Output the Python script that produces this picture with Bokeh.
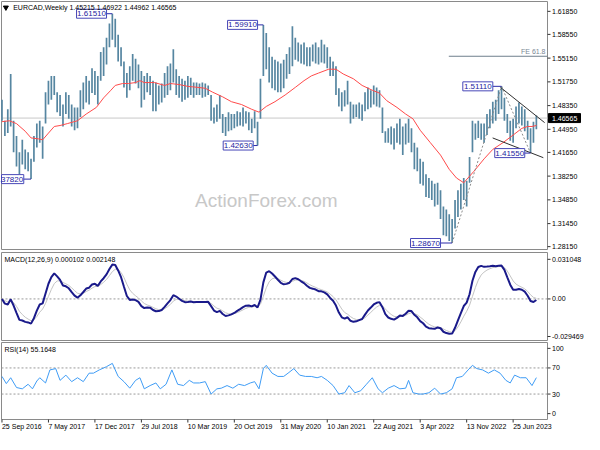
import numpy as np
import pandas as pd
from bokeh.plotting import figure
from bokeh.layouts import column
from bokeh.models import Range1d
from bokeh.embed import file_html
from bokeh.resources import INLINE
from bokeh.core.properties import value

FONT = "Liberation Sans"

# ---------------- data (EURCAD weekly, sampled every 2 weeks from 25 Sep 2016) ----------------
bar_step_weeks = 2
high = [
    1.4919, 1.4618, 1.4782, 1.5288, 1.4618, 1.4400, 1.4167, 1.4345, 1.4208, 1.4167,
    1.4072, 1.4400, 1.4577, 1.4618, 1.4536, 1.5028, 1.5192, 1.5260, 1.5260, 1.5028,
    1.4987, 1.4850, 1.5028, 1.4987, 1.4850, 1.4809, 1.4809, 1.5055, 1.5165, 1.5260,
    1.5192, 1.5369, 1.5329, 1.5260, 1.5602, 1.5670, 1.5807, 1.6012, 1.6151, 1.6080,
    1.5848, 1.5670, 1.5465, 1.5301, 1.5397, 1.5574, 1.5506, 1.5424, 1.5329, 1.5260,
    1.5301, 1.5260, 1.5192, 1.5165, 1.5124, 1.5151, 1.5301, 1.5397, 1.5438, 1.5643,
    1.5356, 1.5260, 1.5219, 1.5192, 1.5260, 1.5233, 1.5165, 1.5165, 1.5151, 1.5165,
    1.5151, 1.5124, 1.4987, 1.4809, 1.4850, 1.4987, 1.4714, 1.4673, 1.4741, 1.4714,
    1.4714, 1.4755, 1.4741, 1.4809, 1.4755, 1.4741, 1.4646, 1.4755, 1.4605, 1.5219,
    1.5991, 1.5875, 1.5670, 1.5533, 1.5492, 1.5465, 1.5438, 1.5492, 1.5574, 1.5670,
    1.5971, 1.5807, 1.5738, 1.5711, 1.5738, 1.5670, 1.5670, 1.5711, 1.5738, 1.5670,
    1.5779, 1.5711, 1.5670, 1.5533, 1.5465, 1.5397, 1.5083, 1.5028, 1.5055, 1.5192,
    1.4891, 1.4850, 1.4850, 1.4878, 1.4850, 1.5028, 1.5096, 1.5055, 1.5124, 1.5096,
    1.5055, 1.4809, 1.4468, 1.4509, 1.4536, 1.4509, 1.4577, 1.4646, 1.4536, 1.4577,
    1.4646, 1.4509, 1.4304, 1.4236, 1.4072, 1.4031, 1.3853, 1.3799, 1.3758, 1.3717,
    1.3730, 1.3621, 1.3389, 1.3348, 1.3280, 1.3211, 1.3484, 1.3621, 1.3717, 1.3799,
    1.3758, 1.4099, 1.4618, 1.4577, 1.4618, 1.4577, 1.4577, 1.4714, 1.4782, 1.4891,
    1.4919, 1.5055, 1.5111, 1.4946, 1.4714, 1.4618, 1.4646, 1.4823, 1.4878, 1.4823,
    1.4782, 1.4618, 1.4509, 1.4605, 1.4692,
]
low = [
    1.4618, 1.4400, 1.4441, 1.4536, 1.4167, 1.3963, 1.3853, 1.3990, 1.3922, 1.3894,
    1.3782, 1.4031, 1.4236, 1.4304, 1.4072, 1.4577, 1.4850, 1.4919, 1.4987, 1.4741,
    1.4687, 1.4536, 1.4714, 1.4646, 1.4536, 1.4482, 1.4509, 1.4673, 1.4782, 1.4878,
    1.4850, 1.5014, 1.4987, 1.4850, 1.5192, 1.5260, 1.5424, 1.5670, 1.5779, 1.5670,
    1.5465, 1.5397, 1.5096, 1.4946, 1.5055, 1.5192, 1.5151, 1.5083, 1.4809, 1.4919,
    1.5028, 1.4987, 1.4755, 1.4755, 1.4850, 1.4878, 1.4946, 1.4987, 1.5055, 1.5165,
    1.4987, 1.4946, 1.4891, 1.4919, 1.4946, 1.4987, 1.4946, 1.4987, 1.4987, 1.4946,
    1.4960, 1.4987, 1.4618, 1.4577, 1.4605, 1.4646, 1.4441, 1.4400, 1.4468, 1.4482,
    1.4509, 1.4536, 1.4550, 1.4536, 1.4577, 1.4482, 1.4441, 1.4509, 1.4263, 1.4646,
    1.5260, 1.5356, 1.5165, 1.5083, 1.5055, 1.5028, 1.5028, 1.5083, 1.5219, 1.5288,
    1.5397, 1.5492, 1.5465, 1.5438, 1.5424, 1.5397, 1.5397, 1.5465, 1.5438, 1.5424,
    1.5451, 1.5438, 1.5369, 1.5260, 1.5260, 1.4987, 1.4823, 1.4755, 1.4823, 1.4850,
    1.4577, 1.4646, 1.4673, 1.4646, 1.4618, 1.4755, 1.4782, 1.4809, 1.4850, 1.4823,
    1.4809, 1.4441, 1.4304, 1.4304, 1.4277, 1.4208, 1.4304, 1.4277, 1.4126, 1.4277,
    1.4304, 1.4167, 1.3922, 1.3894, 1.3717, 1.3689, 1.3525, 1.3512, 1.3484, 1.3389,
    1.3416, 1.3211, 1.2979, 1.2965, 1.2897, 1.2867, 1.3075, 1.3238, 1.3348, 1.3484,
    1.3389, 1.3730, 1.4167, 1.4345, 1.4372, 1.4345, 1.4304, 1.4413, 1.4509, 1.4577,
    1.4618, 1.4714, 1.4782, 1.4618, 1.4441, 1.4331, 1.4304, 1.4509, 1.4577, 1.4550,
    1.4468, 1.4345, 1.4155, 1.4304, 1.4496,
]

# red moving average
ma_week = [0, 5, 10, 16, 20, 25, 28, 32, 36, 40, 45, 52, 58, 65, 70, 75, 78, 83, 87, 92,
           95, 98, 105, 112, 116, 122, 128, 135, 140, 145, 152, 158, 165, 172, 177, 182, 188,
           195, 202, 208, 213, 218, 225, 230, 235, 242, 248, 255, 260, 265, 272, 278, 283,
           288, 295, 302, 308, 313, 318, 325, 332, 338, 345, 352, 358, 362, 365, 368]
ma_value = [1.4605, 1.4618, 1.4577, 1.4468, 1.4372, 1.4359, 1.4345, 1.4441, 1.4536, 1.4550,
            1.4577, 1.4618, 1.4714, 1.4809, 1.4946, 1.5055, 1.5124, 1.5151, 1.5151, 1.5165,
            1.5192, 1.5165, 1.5165, 1.5124, 1.5151, 1.5137, 1.5110, 1.5096, 1.5083, 1.5028,
            1.4960, 1.4891, 1.4850, 1.4782, 1.4741, 1.4823, 1.4891, 1.4987, 1.5096, 1.5192,
            1.5260, 1.5301, 1.5356, 1.5356, 1.5288, 1.5219, 1.5124, 1.5055, 1.5014, 1.4905,
            1.4809, 1.4714, 1.4646, 1.4482, 1.4304, 1.4126, 1.3922, 1.3798, 1.3730, 1.3894,
            1.4072, 1.4208, 1.4304, 1.4413, 1.4509, 1.4536, 1.4536, 1.4550]

# RSI(14)
rsi_week = [0, 3, 6, 10, 14, 18, 21, 24, 26, 30,
            33, 37, 40, 44, 48, 52, 56, 60, 63, 67,
            72, 76, 80, 84, 88, 92, 95, 98, 102, 106,
            109, 113, 117, 121, 125, 129, 132, 136, 140, 144,
            148, 151, 155, 159, 163, 167, 171, 174, 177, 180,
            182, 186, 190, 194, 197, 201, 205, 209, 213, 217,
            220, 224, 228, 232, 236, 239, 243, 247, 251, 255,
            259, 262, 266, 270, 274, 278, 280, 283, 287, 290,
            294, 298, 302, 306, 310, 313, 317, 321, 324, 327,
            331, 335, 339, 343, 347, 350, 353, 357, 361, 365,
            368]
rsi_value = [57, 46, 55, 40, 38, 45, 38, 50, 55, 47,
             67, 69, 51, 59, 49, 55, 49, 62, 62, 67,
             72, 77, 57, 49, 39, 51, 55, 38, 43, 47,
             38, 45, 67, 45, 43, 51, 47, 47, 49, 30,
             38, 39, 43, 39, 45, 43, 47, 49, 38, 69,
             74, 62, 57, 57, 62, 69, 59, 57, 57, 55,
             57, 51, 43, 30, 32, 43, 32, 35, 45, 55,
             38, 32, 39, 43, 38, 39, 51, 32, 30, 30,
             32, 39, 30, 32, 38, 55, 57, 67, 74, 69,
             67, 62, 67, 62, 51, 47, 59, 55, 55, 43,
             55.16]

date_label_week = [0, 32, 64, 96, 128, 160, 192, 224, 256, 288, 320, 352]
date_label_text = ["25 Sep 2016", "7 May 2017", "17 Dec 2017", "29 Jul 2018", "10 Mar 2019",
                   "20 Oct 2019", "31 May 2020", "10 Jan 2021", "22 Aug 2021", "3 Apr 2022",
                   "13 Nov 2022", "25 Jun 2023"]
price_ticks = [1.61850, 1.58550, 1.55150, 1.51750, 1.48350, 1.44950, 1.41650, 1.38250,
               1.34850, 1.31450, 1.28150]
macd_ticks = [0.031048, 0.0, -0.029469]
macd_tick_text = ["0.031048", "0.00", "-0.029469"]
rsi_ticks = [100, 70, 30, 0]
title_text = "EURCAD,Weekly  1.45215 1.46922 1.44962 1.46565"
macd_title = "MACD(12,26,9) 0.000102 0.002148"
rsi_title = "RSI(14) 55.1648"
last_close = 1.46565

pivot_text = ["1.37820", "1.61510", "1.59910", "1.42630", "1.28670", "1.51110", "1.41550"]
pivot_price = [1.3782, 1.6151, 1.5991, 1.4263, 1.2867, 1.5111, 1.4155]
pivot_week = [20, 76, 180, 176, 310, 344, 364]
pivot_gap = [5, 4, 4, 3, 8, 6, 4]
fe_a, fe_b, fe_c = 4, 5, 6          # indices of the Fibonacci-expansion pivots
fe_ratio = 0.618
trend_upper = ([343.3, 373.7], [1.5096, 1.4591])
trend_lower = ([337.9, 372.8], [1.4372, 1.4089])

# ---------------- derived ----------------
weeks = np.arange(len(high)) * bar_step_weeks
hi = np.array(high)
lo = np.array(low)
mid = pd.Series((hi + lo) / 2)


def step_alpha(n):
    a = 2.0 / (n + 1)
    return 1 - (1 - a) ** bar_step_weeks


macd = mid.ewm(alpha=step_alpha(12), adjust=False).mean() - mid.ewm(alpha=step_alpha(26), adjust=False).mean()
signal = macd.ewm(alpha=step_alpha(9), adjust=False).mean()

# ---------------- layout helpers ----------------
PXW = 546 / 376.0            # pixels per week
W0, W1 = -0.33, 375.67       # chart frame, in weeks
TOTAL_W = 584
X0 = W0 - 1.0 / PXW
xr = Range1d(X0, X0 + TOTAL_W / PXW)
BAR_COLOR = "#5686a1"
FRAME = "#8a8a8a"
TXT = dict(text_font=value(FONT), text_font_size="7px", text_color="black")


def panel(ylo, yhi, chart_h, pad_top, pad_bottom):
    ppu = chart_h / (yhi - ylo)
    f = figure(frame_width=TOTAL_W, frame_height=chart_h + pad_top + pad_bottom, x_range=xr,
               y_range=Range1d(ylo - pad_bottom / ppu, yhi + pad_top / ppu),
               output_backend="svg", toolbar_location=None, x_axis_location=None,
               y_axis_location=None, min_border=0, outline_line_color=None)
    f.grid.visible = False
    f.background_fill_color = "white"
    f.border_fill_color = "white"
    f.quad(left=[W0], right=[W1], bottom=[ylo], top=[yhi], fill_color=None,
           line_color=FRAME, line_width=1)
    return f, ppu


def right_axis(f, ticks, labels):
    n = len(ticks)
    f.segment(x0=[W1] * n, x1=[W1 + 3 / PXW] * n, y0=ticks, y1=ticks, line_color="#333333", line_width=1)
    f.text(x=[W1 + 4.5 / PXW] * n, y=ticks, text=labels, text_align="left",
           text_baseline="middle", **TXT)


# ---------------- main price panel ----------------
p, ppu_p = panel(1.2774, 1.6326, 248, 1, 2)
right_axis(p, price_ticks, [f"{t:.5f}" for t in price_ticks])

p.text(x=[133], y=[1.3471], text=["ActionForex.com"], text_font=value(FONT),
       text_font_size="19px", text_color="#c8c8c8", text_baseline="middle", text_align="left")
p.segment(x0=[W0], x1=[W1], y0=[last_close], y1=[last_close], line_color="#c8c8c8", line_width=1)

p.segment(x0=weeks, y0=lo, x1=weeks, y1=hi, line_color=BAR_COLOR, line_width=1.7)
p.line(ma_week, ma_value, line_color="#ff4a4a", line_width=1)

# Fibonacci expansion
fe_level = pivot_price[fe_c] + fe_ratio * (pivot_price[fe_b] - pivot_price[fe_a])
p.line([pivot_week[fe_a], pivot_week[fe_b], pivot_week[fe_c]],
       [pivot_price[fe_a], pivot_price[fe_b], pivot_price[fe_c]],
       line_color="#8a8a8a", line_dash="2 2", line_width=1)
p.segment(x0=[307.7], y0=[fe_level], x1=[W1], y1=[fe_level], line_color="#6f7f8c", line_width=1)
p.text(x=[W1 - 2 / PXW], y=[fe_level + 1.5 / ppu_p], text=["FE 61.8"], text_align="right",
       text_baseline="bottom", text_font=value(FONT), text_font_size="7px", text_color="#7a8794")

# trendlines
p.line(trend_upper[0], trend_upper[1], line_color="#303030", line_width=1)
p.line(trend_lower[0], trend_lower[1], line_color="#303030", line_width=1)

# pivot price boxes
box_w = 30 / PXW
box_h = 9 / ppu_p
box_r = [w - g for w, g in zip(pivot_week, pivot_gap)]
p.segment(x0=box_r, y0=pivot_price, x1=pivot_week, y1=pivot_price, line_color="#2b2ba8", line_width=1)
p.quad(left=[max(W0, r - box_w) for r in box_r], right=box_r,
       bottom=[v - box_h / 2 for v in pivot_price], top=[v + box_h / 2 for v in pivot_price],
       fill_color="white", line_color="#4848b8", line_width=1)
p.text(x=[r - box_w / 2 for r in box_r], y=pivot_price, text=pivot_text,
       text_font=value(FONT), text_font_size="8px", text_color="#2424a0",
       text_align="center", text_baseline="middle")

# title
p.scatter(x=[2.7], y=[1.6326 - 6 / ppu_p], marker="inverted_triangle", size=5, color="black")
p.text(x=[7.7], y=[1.6326 - 2 / ppu_p], text=[title_text], text_baseline="top", **TXT)

# last price box on the axis
p.quad(left=[W1 + 1 / PXW], right=[W1 + 33 / PXW], bottom=[last_close - 4.5 / ppu_p],
       top=[last_close + 4.5 / ppu_p], fill_color="black", line_color="black")
p.text(x=[W1 + 4.5 / PXW], y=[last_close], text=[f"{last_close:.5f}"], text_baseline="middle",
       text_font=value(FONT), text_font_size="7px", text_color="white")

# ---------------- MACD panel ----------------
pm, ppu_m = panel(-0.0326, 0.0364, 88, 1, 1)
right_axis(pm, macd_ticks, macd_tick_text)
pm.segment(x0=[W0], x1=[W1], y0=[0], y1=[0], line_color="#9a9a9a", line_dash="2 2", line_width=1)
pm.line(weeks, signal.values, line_color="#c4c4c4", line_width=1)
pm.line(weeks, macd.values, line_color="#1a1a8a", line_width=2)
pm.text(x=[1.7], y=[0.0364 - 3 / ppu_m], text=[macd_title], text_baseline="top", **TXT)

# ---------------- RSI panel ----------------
pr, ppu_r = panel(-9, 109, 77, 1, 15)
right_axis(pr, rsi_ticks, [str(t) for t in rsi_ticks])
pr.segment(x0=[W0, W0], x1=[W1, W1], y0=[30, 70], y1=[30, 70], line_color="#9a9a9a",
           line_dash="2 2", line_width=1)
pr.line(rsi_week, rsi_value, line_color="#3f9cf5", line_width=1)
pr.text(x=[1.7], y=[109 - 3 / ppu_r], text=[rsi_title], text_baseline="top", **TXT)
nd = len(date_label_week)
pr.segment(x0=date_label_week, x1=date_label_week, y0=[-9] * nd, y1=[-9 - 3 / ppu_r] * nd,
           line_color="#333333", line_width=1)
pr.text(x=date_label_week, y=[-9 - 3.5 / ppu_r] * nd, text=date_label_text, text_align="left",
        text_baseline="top", **TXT)

layout = column(p, pm, pr, spacing=0)
open("out.html", "w").write(file_html(layout, INLINE))
